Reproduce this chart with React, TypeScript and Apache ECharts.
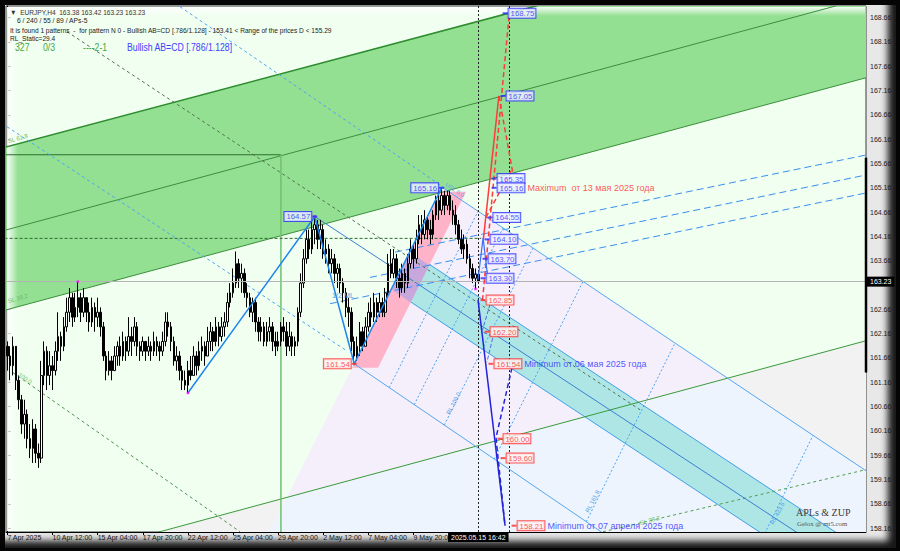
import React, { useEffect, useRef } from "react";
import * as echarts from "echarts";

const F = '"Liberation Sans", Arial, Helvetica, sans-serif';
const FS = '"Liberation Serif", "Times New Roman", serif';

// ---------- time axis ----------
const BAR_COUNT = 168;
const SLOT_COUNT = 305;
const MONTHS = ["Jan", "Feb", "Mar", "Apr", "May", "Jun", "Jul", "Aug", "Sep", "Oct", "Nov", "Dec"];
const FIRST_BAR_UTC = Date.UTC(2025, 3, 7, 20);

function buildCategories(): string[] {
  const out: string[] = [];
  let t = FIRST_BAR_UTC;
  while (out.length < BAR_COUNT) {
    const d = new Date(t);
    const wd = d.getUTCDay();
    if (wd !== 0 && wd !== 6) {
      const hh = String(d.getUTCHours()).padStart(2, "0");
      out.push(
        out.length === 0
          ? `${d.getUTCDate()} ${MONTHS[d.getUTCMonth()]} ${d.getUTCFullYear()}`
          : `${d.getUTCDate()} ${MONTHS[d.getUTCMonth()]} ${hh}:00`
      );
    }
    t += 4 * 3600 * 1000;
  }
  let k = 0;
  while (out.length < SLOT_COUNT) out.push(`+${k++}`);
  return out;
}

// ---------- candles (EURJPY H4) ----------
const FIRST_OPEN = 161.9;
const closes = [
  161.7, 161.5, 161.9, 161.2, 160.8, 160.3, 160.5, 160.0, 159.8, 160.2,
  159.7, 159.6, 161.3, 161.8, 161.3, 161.5, 161.4, 161.8, 162.1, 161.9,
  162.3, 162.6, 162.9, 162.5, 162.7, 162.9, 162.6, 162.9, 162.6, 162.4,
  162.7, 162.5, 162.6, 162.3, 161.7, 161.4, 161.6, 161.4, 161.7, 161.9,
  161.7, 162.0, 161.8, 162.1, 162.0, 162.3, 161.9, 161.8, 162.0, 161.8,
  161.9, 161.8, 162.0, 161.9, 161.8, 162.0, 162.4, 162.3, 162.0, 161.6,
  161.7, 161.4, 161.2, 161.1, 161.4, 161.3, 161.7, 161.5, 161.8, 161.9,
  161.7, 162.0, 162.2, 162.0, 162.3, 162.1, 162.3, 162.4, 162.8, 163.0,
  163.2, 163.6, 163.3, 163.4, 163.0, 162.9, 162.6, 162.8, 162.4, 162.2,
  162.3, 162.0, 162.2, 162.3, 162.0, 161.9, 162.0, 162.3, 162.2, 161.9,
  162.1, 161.9, 162.0, 162.6, 163.2, 163.7, 164.1, 163.9, 164.3, 164.4,
  164.1, 164.3, 163.8, 163.9, 163.6, 163.7, 163.4, 163.5, 163.2, 163.0,
  162.7, 162.6, 162.0, 161.7, 161.9, 162.2, 161.9, 162.3, 162.6, 162.5,
  162.8, 162.6, 162.8, 162.6, 163.0, 163.6, 163.4, 163.7, 163.3, 163.1,
  163.4, 163.2, 163.6, 163.9, 163.7, 164.1, 164.4, 164.2, 164.5, 164.3,
  164.2, 164.6, 164.9, 164.7, 165.0, 164.8, 165.0, 164.7, 164.6, 164.4,
  164.1, 163.9, 164.0, 163.7, 163.5, 163.3, 163.38, 163.23,
];
const highs = [
  162.0, 161.9, 162.1, 161.9, 161.3, 160.9, 160.8, 160.6, 160.3, 160.4,
  160.3, 159.9, 161.6, 162.0, 161.9, 161.8, 161.7, 162.0, 162.6, 162.2,
  162.5, 162.9, 163.1, 163.0, 163.0, 163.23, 163.0, 163.1, 162.9, 162.8,
  162.9, 162.8, 162.9, 162.7, 162.4, 161.8, 161.8, 161.7, 161.9, 162.0,
  162.1, 162.2, 162.1, 162.5, 162.3, 162.5, 162.4, 162.0, 162.1, 162.0,
  162.1, 162.0, 162.2, 162.1, 162.0, 162.2, 162.6, 162.6, 162.4, 162.1,
  161.9, 161.8, 161.5, 161.4, 161.6, 161.7, 161.9, 161.8, 162.0, 162.1,
  162.0, 162.3, 162.4, 162.3, 162.5, 162.4, 162.5, 162.6, 163.0, 163.2,
  163.5, 163.85, 163.7, 163.6, 163.5, 163.2, 163.0, 162.9, 162.9, 162.5,
  162.5, 162.4, 162.4, 162.5, 162.4, 162.2, 162.2, 162.4, 162.5, 162.4,
  162.4, 162.2, 162.1, 162.7, 163.4, 163.9, 164.3, 164.3, 164.5, 164.57,
  164.5, 164.5, 164.4, 164.1, 164.0, 163.9, 163.8, 163.6, 163.6, 163.3,
  163.1, 162.9, 162.7, 162.1, 162.1, 162.4, 162.3, 162.5, 162.8, 162.9,
  163.0, 162.9, 163.0, 162.9, 163.1, 163.8, 163.9, 163.9, 163.8, 163.5,
  163.6, 163.5, 163.8, 164.1, 164.0, 164.3, 164.6, 164.6, 164.7, 164.6,
  164.5, 164.7, 165.0, 165.1, 165.16, 165.1, 165.1, 165.1, 164.9, 164.8,
  164.5, 164.3, 164.2, 164.1, 163.8, 163.6, 163.5, 163.42,
];
const lows = [
  161.4, 161.2, 161.3, 161.0, 160.6, 160.1, 160.0, 159.8, 159.6, 159.5,
  159.5, 159.4, 159.5, 161.1, 161.0, 161.1, 161.0, 161.3, 161.6, 161.6,
  161.8, 162.2, 162.4, 162.3, 162.4, 162.5, 162.4, 162.5, 162.4, 162.2,
  162.3, 162.2, 162.3, 162.1, 161.6, 161.2, 161.3, 161.2, 161.4, 161.5,
  161.5, 161.6, 161.6, 161.7, 161.7, 161.9, 161.7, 161.6, 161.7, 161.6,
  161.7, 161.6, 161.7, 161.7, 161.6, 161.7, 161.9, 162.1, 161.8, 161.5,
  161.4, 161.2, 161.0, 161.0, 160.94, 161.2, 161.3, 161.3, 161.4, 161.6,
  161.5, 161.7, 161.8, 161.8, 161.9, 161.9, 162.0, 162.1, 162.3, 162.7,
  162.9, 163.1, 163.1, 163.0, 162.9, 162.7, 162.5, 162.4, 162.2, 162.0,
  162.0, 161.9, 161.9, 162.0, 161.8, 161.7, 161.8, 161.9, 162.0, 161.7,
  161.8, 161.7, 161.7, 161.9, 162.5, 163.1, 163.6, 163.7, 163.8, 164.0,
  163.9, 163.9, 163.7, 163.6, 163.4, 163.4, 163.2, 163.1, 163.0, 162.8,
  162.5, 162.3, 161.8, 161.54, 161.6, 161.7, 161.8, 161.9, 162.2, 162.3,
  162.4, 162.4, 162.5, 162.5, 162.5, 162.9, 163.3, 163.3, 163.1, 162.9,
  163.0, 163.0, 163.1, 163.5, 163.5, 163.6, 164.0, 164.0, 164.1, 164.1,
  164.0, 164.1, 164.5, 164.5, 164.6, 164.6, 164.7, 164.6, 164.4, 164.2,
  164.0, 163.8, 163.7, 163.6, 163.3, 163.2, 163.08, 163.23,
];

// ---------- axis ----------
const Y_MIN = 158.08;
const Y_MAX = 168.9;
const X_VALUE_MIN = -0.5;
const X_VALUE_MAX = 304.5;
const yTickValues = [
  158.16, 158.66, 159.16, 159.66, 160.16, 160.66, 161.16, 161.66, 162.16, 162.66, 163.16,
  163.66, 164.16, 164.66, 165.16, 165.66, 166.16, 166.66, 167.16, 167.66, 168.16, 168.66,
];
// 163.16 sits under the current-price box, as in the terminal
const yLabelValues = yTickValues.filter((v) => v !== 163.16);
const CURRENT_PRICE = 163.23;
const CURRENT_BAR = 167;
const TARGET_BAR = 178;
const CURRENT_TIME = "2025.05.15 16:42";

// ---------- drawn objects, in [bar index, price] ----------
const bgGrey = [[-1, 157.221], [305, 162.022], [305, 150], [-1, 150]];
const bgGreenBand = [[-1, 165.993], [305, 170.714], [305, 167.432], [-1, 162.64]];
const bgFork = [[154.5, 165.16], [305, 159.32], [305, 150], [22.6, 150]];
const bgForkLow = [[99.08, 158.792], [255.4, 161.244], [305, 159.32], [305, 150], [22.6, 150]];
const bgCyan = [[143.0, 163.84], [330, 156.69], [330, 155.66], [136.3, 163.07]];
const bgPink = [[122.21, 161.46], [131.43, 161.46], [162.64, 165.08], [153.77, 165.08]];
const bgPurple = [[142.95, 163.831], [149.62, 163.568], [142.99, 162.801], [136.29, 163.072]];

const greenTop = [[-1, 165.993], [305, 170.714]];
const greenMid = [[-1, 164.285], [305, 169.077]];
const greenLow = [[-1, 162.64], [305, 167.432]];
const greenBottom = [[-1, 157.221], [305, 162.022]];
const boxH = [[-0.5, 165.84], [97, 165.84]];
const boxV = [[97, 165.84], [97, 157.5]];
const dashedLevel = [[-1, 164.12], [168, 164.12]];
const dashedDiag1 = [[21.13, 168.372], [224.35, 160.595]];
const dashedDiag2 = [[1.98, 161.357], [82.49, 158.086]];
const dashedDiag3 = [[205, 158.0], [305, 159.37]];
const blueDash1 = [[-0.14, 166.417], [119.73, 161.83]];
const blueDash2 = [[61.21, 168.886], [155.9, 165.121]];
const fanD1 = [[137.46, 163.836], [305, 165.841]];
const fanD2 = [[128.6, 163.317], [305, 165.43]];
const fanD3 = [[114.41, 162.776], [305, 165.06]];
const upperTine = [[154.5, 165.16], [305, 159.32]];
const lowerTine = [[123, 161.54], [215, 157.91]];
const medianLine = [[109, 164.57], [330, 156.17]];
const rlLines = [
  [[135.41, 161.05], [166.91, 164.678]],
  [[144.28, 160.699], [175.78, 164.334]],
  [[154.92, 160.279], [186.42, 163.922]],
  [[172.65, 159.579], [204.15, 163.234]],
  [[205.28, 158.29], [236.78, 161.968]],
  [[254.22, 156.357], [285.72, 160.069]],
];
const axisMark = [[304.5, 165.78], [304.5, 161.36]];

const zigIdx = [64, 109, 123, 154];
const zigPrice = [160.94, 164.57, 161.54, 165.16];
const redDashA = [[168.5, 162.85], [178, 168.75]];
const redSolid = [[168.8, 164.1], [174.3, 167.05]];
const redDashB = [[174.3, 167.05], [179.3, 165.45]];
const redDashC = [[169.7, 164.55], [179, 165.55]];
const blueSolidProj = [[166.9, 162.86], [176.5, 158.21]];
const blueDashProj = [[178.95, 161.46], [173.28, 160.02], [176.47, 158.21]];
const blueDashProj2 = [[171.15, 162.76], [168.31, 162.2], [172.22, 162.1], [170.09, 161.58]];
const blueShort = [[166.9, 163.27], [168.7, 164.13], [170.4, 163.3]];

const extremeIdx = [25, 64, 109, 166];
const extremePrice = [163.23, 160.94, 164.57, 163.08];

const projLabelIdx = [176.5, 175.8, 172.6, 172.6, 171.1, 170.1, 169.4, 168.7, 168.7, 170.1, 171.5, 174.7, 175.8, 179.7];
const projLabelPrice = [168.75, 167.05, 165.35, 165.16, 164.55, 164.1, 163.7, 163.3, 162.85, 162.2, 161.54, 160.0, 159.6, 158.21];
const projLabelKind = ["b", "b", "b", "b", "b", "b", "b", "b", "r", "r", "r", "r", "r", "r"];
const projLabelNote = [
  "", "", "", "Maximum  от 13 мая 2025 года", "", "", "", "", "", "",
  "Minimum от 06 мая 2025 года", "", "", "Minimum от 07 апреля 2025 года",
];
const pivotLabelIdx = [109, 123, 154];
const pivotLabelPrice = [164.57, 161.54, 165.16];
const pivotLabelKind = ["b", "r", "b"];

const headerLines = [
  "▼  EURJPY,H4  163.38 163.42 163.23 163.23",
  "6 / 240 / 55 / 89 / APs-5",
  "It is found 1 patterns  -  for pattern N 0 - Bullish AB=CD [.786/1.128] - 153.41 < Range of the prices D < 155.29",
  "RL_Static=29.4",
];

const BLUE = "#2b2bff";
const RED = "#ff2b2b";

type Shape = { pts: number[][]; fill?: string; stroke?: string; width?: number; dash?: number[] };

function shapeSeries(name: string, shapes: Shape[], z: number, clip = true) {
  return {
    type: "custom",
    name,
    xAxisIndex: 1,
    yAxisIndex: 0,
    z,
    clip,
    silent: true,
    data: shapes.map((_, k) => [k, 160]),
    renderItem: (params: any, api: any) => {
      const s = shapes[params.dataIndex];
      const points = s.pts.map((pt) => api.coord(pt));
      if (s.fill) {
        return {
          type: "polygon",
          shape: { points },
          style: { fill: s.fill, stroke: s.stroke || "none", lineWidth: s.width || 0 },
        };
      }
      return {
        type: "polyline",
        shape: { points },
        style: { fill: "none", stroke: s.stroke, lineWidth: s.width || 1, lineDash: s.dash || null },
      };
    },
  };
}

function boxRich(kind: string) {
  const c = kind === "b" ? BLUE : RED;
  return {
    color: c,
    borderColor: c,
    borderWidth: 1,
    backgroundColor: kind === "b" ? "#eef0ff" : "#fff4f4",
    padding: [1, 1, 0, 2],
    fontSize: 7.8,
    fontFamily: F,
    lineHeight: 9,
  };
}

function buildOption() {
  const categories = buildCategories();
  const candleData = closes.map((c, k) => [k === 0 ? FIRST_OPEN : closes[k - 1], c, lows[k], highs[k]]);
  const showLabel = (index: number) => index % 16 === 0 && index <= 144;

  const bgShapes: Shape[] = [
    { pts: bgGrey, fill: "#f2f2f2" },
    { pts: bgGreenBand, fill: "#93e093" },
    { pts: bgFork, fill: "#f4effb" },
    { pts: bgForkLow, fill: "#edf4fd" },
    { pts: bgCyan, fill: "#aee6e6", stroke: "#3f9fe6", width: 1 },
    { pts: bgPink, fill: "#ffb3c8" },
    { pts: bgPurple, fill: "#c8a8dc" },
  ];

  const lineShapes: Shape[] = [
    { pts: greenTop, stroke: "#2e8b2e", width: 1.5 },
    { pts: greenMid, stroke: "#3b8f3b", width: 1 },
    { pts: greenLow, stroke: "#3b8f3b", width: 1 },
    { pts: greenBottom, stroke: "#3a9a3a", width: 1 },
    { pts: boxH, stroke: "#2f6e2f", width: 1 },
    { pts: boxV, stroke: "#6fc06f", width: 1.5 },
    { pts: dashedLevel, stroke: "#2c6b2c", width: 1, dash: [3, 2] },
    { pts: dashedDiag1, stroke: "#52704f", width: 1, dash: [3, 3] },
    { pts: dashedDiag2, stroke: "#4f8f4f", width: 1, dash: [3, 3] },
    { pts: dashedDiag3, stroke: "#4f9f4f", width: 1, dash: [3, 3] },
    { pts: blueDash1, stroke: "#4da3f5", width: 1, dash: [3, 3] },
    { pts: blueDash2, stroke: "#4da3f5", width: 1, dash: [3, 3] },
    { pts: fanD1, stroke: "#3a8ff0", width: 1, dash: [7, 4] },
    { pts: fanD2, stroke: "#3a8ff0", width: 1, dash: [7, 4] },
    { pts: fanD3, stroke: "#3a8ff0", width: 1, dash: [7, 4] },
    { pts: upperTine, stroke: "#55a6ee", width: 1 },
    { pts: lowerTine, stroke: "#55a6ee", width: 1 },
    { pts: medianLine, stroke: "#3b7fd0", width: 1 },
    ...rlLines.map((pts) => ({ pts, stroke: "#4da3f5", width: 1, dash: [2, 2] })),
  ];

  const projShapes: Shape[] = [
    { pts: zigIdx.map((i, k) => [i, zigPrice[k]]), stroke: "#1f86ee", width: 1.5 },
    { pts: redDashA, stroke: "#ff3b3b", width: 1.5, dash: [5, 3] },
    { pts: redSolid, stroke: "#ff3b3b", width: 1.5 },
    { pts: redDashB, stroke: "#ff3b3b", width: 1.5, dash: [5, 3] },
    { pts: redDashC, stroke: "#ff3b3b", width: 1.5, dash: [5, 3] },
    { pts: blueSolidProj, stroke: "#2424d8", width: 1.5 },
    { pts: blueDashProj, stroke: "#2424d8", width: 1.5, dash: [5, 3] },
    { pts: blueDashProj2, stroke: "#4a6fe0", width: 1, dash: [4, 2] },
    { pts: blueShort, stroke: "#3b6ff0", width: 1.2 },
  ];

  const projItems = projLabelIdx.map((i, k) => {
    const kind = projLabelKind[k];
    const note = projLabelNote[k];
    const txt = projLabelPrice[k].toFixed(2);
    return {
      value: [i, projLabelPrice[k]],
      itemStyle: { color: kind === "b" ? BLUE : RED },
      label: {
        show: true,
        position: "right",
        distance: 1,
        formatter: note ? `{b|${txt}}{n|${note}}` : `{b|${txt}}`,
        rich: {
          b: boxRich(kind),
          n: { color: kind === "b" ? RED : BLUE, fontSize: 9, fontFamily: F, padding: [0, 0, 0, 3] },
        },
      },
    };
  });
  const pivotItems = pivotLabelIdx.map((i, k) => ({
    value: [i, pivotLabelPrice[k]],
    itemStyle: { color: pivotLabelKind[k] === "b" ? BLUE : RED },
    label: {
      show: true,
      position: "left",
      distance: 1,
      formatter: `{b|${pivotLabelPrice[k].toFixed(2)}}`,
      rich: { b: boxRich(pivotLabelKind[k]) },
    },
  }));

  const gtext = (x: number, y: number, text: string, o: any = {}) => ({
    type: "text",
    x,
    y,
    z: 20,
    silent: true,
    rotation: o.rotation || 0,
    scaleX: o.scaleX || 1,
    style: {
      text,
      fill: o.fill || "#222",
      fontSize: o.size || 7.5,
      fontFamily: o.family || F,
      verticalAlign: "middle",
      align: "left",
    },
  });

  const graphics: any[] = [
    {
      type: "rect",
      z: 2,
      silent: true,
      shape: { x: 7, y: 7, width: 11, height: 524 },
      style: {
        fill: new echarts.graphic.LinearGradient(0, 0, 1, 0, [
          { offset: 0, color: "rgba(255,255,255,0.95)" },
          { offset: 1, color: "rgba(255,255,255,0)" },
        ]),
      },
    },
    {
      type: "rect",
      z: 2,
      silent: true,
      shape: { x: 7, y: 7, width: 858, height: 9 },
      style: {
        fill: new echarts.graphic.LinearGradient(0, 0, 0, 1, [
          { offset: 0, color: "rgba(255,255,255,0.9)" },
          { offset: 1, color: "rgba(255,255,255,0)" },
        ]),
      },
    },
    gtext(10, 12, headerLines[0], { fill: "#333", scaleX: 0.88 }),
    gtext(17, 21, headerLines[1], { scaleX: 0.9 }),
    gtext(10, 30, headerLines[2], { scaleX: 0.88 }),
    gtext(10, 38.5, headerLines[3], { scaleX: 0.88 }),
    gtext(15, 48, "327", { fill: "#45a845", size: 10, scaleX: 0.87 }),
    gtext(43, 48, "0/3", { fill: "#45a845", size: 10, scaleX: 0.87 }),
    gtext(83, 48, "----2-1", { fill: "#45a845", size: 10, scaleX: 0.87 }),
    gtext(127, 48, "Bullish AB=CD [.786/1.128]", { fill: "#4040ff", size: 10, scaleX: 0.87 }),
    gtext(8, 141, "SL 61.8", { fill: "#6cbf6c", size: 6, rotation: 0.26 }),
    gtext(8, 301, "SL 38.2", { fill: "#6cbf6c", size: 6, rotation: 0.26 }),
    gtext(19, 374, "100.0", { fill: "#6cbf6c", size: 6, rotation: -0.6 }),
    gtext(640, 523, "SL 38.2", { fill: "#6cbf6c", size: 6, rotation: 0.26 }),
    gtext(332, 295, "1/2 ML", { fill: "#5aa0e6", size: 8, scaleX: 0.9 }),
    gtext(446, 184, "USL 0.0", { fill: "#5aa0e6", size: 6, rotation: -0.6 }),
    gtext(587, 512, "RL 161.8", { fill: "#4d9fe6", size: 6, rotation: 1.1 }),
    gtext(772, 524, "RL 423.6", { fill: "#4d9fe6", size: 6, rotation: 1.1 }),
    gtext(448, 414, "RL 100.0", { fill: "#4d9fe6", size: 6, rotation: 1.1 }),
    gtext(796, 512, "APLs & ZUP", { fill: "#3a3a3a", size: 10, family: FS }),
    gtext(797, 523, "Gelox @ mt5.com", { fill: "#555", size: 6.8, family: FS }),
  ];

  return {
    animation: false,
    backgroundColor: "transparent",
    grid: {
      left: 6,
      top: 6,
      right: 34,
      bottom: 19,
      show: true,
      backgroundColor: "#f0fff0",
      borderColor: "#3a3a3a",
      borderWidth: 1,
    },
    xAxis: [
      {
        type: "category",
        data: categories,
        boundaryGap: true,
        axisLine: { show: true, lineStyle: { color: "#000", width: 1 } },
        axisTick: { show: true, interval: showLabel, alignWithLabel: true, length: 3, lineStyle: { color: "#000" } },
        axisLabel: {
          show: true,
          interval: showLabel,
          align: "left",
          fontSize: 7,
          fontFamily: F,
          color: "#111",
          margin: 2,
        },
        splitLine: { show: false },
      },
      { type: "value", min: X_VALUE_MIN, max: X_VALUE_MAX, show: false, gridIndex: 0 },
    ],
    yAxis: {
      type: "value",
      position: "right",
      min: Y_MIN,
      max: Y_MAX,
      axisLine: { show: true, lineStyle: { color: "#000", width: 1 } },
      axisTick: { show: true, length: 3, customValues: yTickValues, lineStyle: { color: "#000" } },
      axisLabel: {
        customValues: yLabelValues,
        formatter: (v: number) => v.toFixed(2),
        fontSize: 7,
        fontFamily: F,
        color: "#1a1a1a",
        margin: 4,
      },
      splitLine: { show: false },
    },
    series: [
      shapeSeries("bg", bgShapes, 1),
      shapeSeries("lines", lineShapes, 3),
      {
        type: "candlestick",
        name: "EURJPY,H4",
        xAxisIndex: 0,
        yAxisIndex: 0,
        z: 4,
        barWidth: "72%",
        silent: true,
        data: candleData,
        itemStyle: {
          color: "#ffffff",
          color0: "#000000",
          borderColor: "#000000",
          borderColor0: "#000000",
          borderWidth: 1,
        },
        markLine: {
          silent: true,
          symbol: ["none", "none"],
          animation: false,
          data: [
            {
              yAxis: CURRENT_PRICE,
              lineStyle: { color: "#b4b4b4", width: 1, type: "solid" },
              label: {
                show: true,
                position: "end",
                formatter: CURRENT_PRICE.toFixed(2),
                color: "#fff",
                backgroundColor: "#000",
                fontSize: 7,
                fontFamily: F,
                padding: [2, 3, 1, 3],
                distance: 1,
              },
            },
            {
              xAxis: CURRENT_BAR,
              lineStyle: { color: "#222", width: 1, type: [2, 2] },
              label: {
                show: true,
                position: "start",
                formatter: CURRENT_TIME,
                color: "#fff",
                backgroundColor: "#000",
                fontSize: 7,
                fontFamily: F,
                padding: [1, 3, 1, 3],
                distance: 1,
              },
            },
            {
              xAxis: TARGET_BAR,
              lineStyle: { color: "#222", width: 1, type: [2, 2] },
              label: { show: false },
            },
          ],
        },
      },
      shapeSeries("projections", projShapes, 5),
      shapeSeries("axisMark", [{ pts: axisMark, stroke: "#000", width: 2.5 }], 5, false),
      {
        type: "scatter",
        name: "extremes",
        xAxisIndex: 1,
        yAxisIndex: 0,
        z: 6,
        silent: true,
        symbol: "rect",
        symbolSize: 2.5,
        itemStyle: { color: "#ff00ff" },
        data: extremeIdx.map((i, k) => [i, extremePrice[k]]),
      },
      {
        type: "scatter",
        name: "levels",
        xAxisIndex: 1,
        yAxisIndex: 0,
        z: 7,
        silent: true,
        clip: false,
        symbol: "rect",
        symbolSize: [5, 2],
        data: [...projItems, ...pivotItems],
      },
    ],
    graphic: { elements: graphics },
  };
}

export default function App() {
  const ref = useRef<HTMLDivElement>(null);
  useEffect(() => {
    if (!ref.current) return;
    const chart = echarts.init(ref.current, undefined, { renderer: "svg" });
    chart.setOption(buildOption() as any);
    return () => chart.dispose();
  }, []);
  return (
    <div style={{ position: "fixed", left: 0, top: 0, width: 900, height: 551, background: "#050505", overflow: "hidden" }}>
      <div
        style={{
          position: "absolute",
          left: 5,
          top: 5,
          width: 891,
          height: 543,
          background: "#e8e8e8",
          boxShadow: "inset -9px -8px 7px -1px rgba(0,0,0,0.9)",
        }}
      />
      <div ref={ref} style={{ position: "absolute", left: 0, top: 0, width: 900, height: 551 }} />
    </div>
  );
}
